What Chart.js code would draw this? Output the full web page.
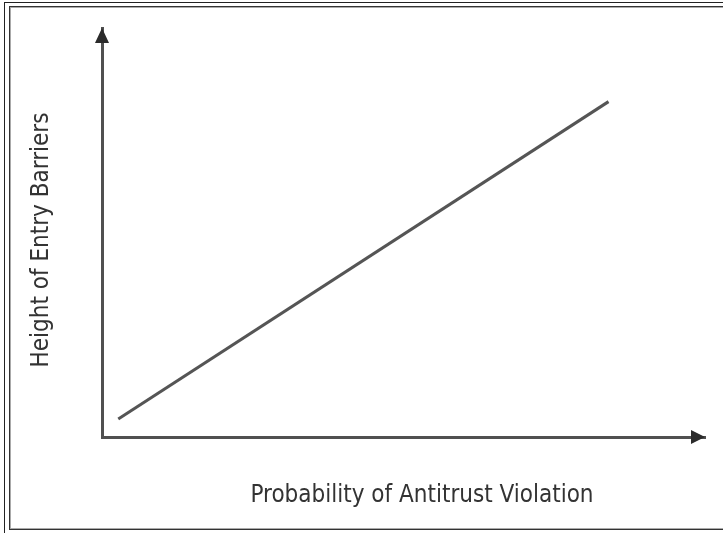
<!DOCTYPE html>
<html>
<head>
<meta charset="utf-8">
<script src="https://cdn.jsdelivr.net/npm/chart.js@4"></script>
<style>
  html, body { margin: 0; padding: 0; background: #fff; }
  #wrap { width: 723px; height: 533px; position: relative; }
</style>
</head>
<body>
<div id="wrap"><canvas id="chartLine"></canvas></div>
<script>
// the single straight relationship
const xValues = [2.7, 84];
const yValues = [4.4, 82];
const xTitle = "Probability of Antitrust Violation";
const yTitle = "Height of Entry Barriers";

const AXIS_COLOR = "#505050";
const TEXT_COLOR = "#333333";
const FONT = "24px 'DejaVu Sans Condensed', 'Liberation Sans Narrow', Roboto, sans-serif";

// frame around the figure, arrow heads and the axis labels
const framePlugin = {
    id: "frame",
    beforeDraw(chart) {
        const c = chart.ctx;
        c.save();
        c.fillStyle = "#fff";
        c.fillRect(0, 0, chart.width, chart.height);
        c.lineWidth = 1;
        c.strokeStyle = "#222";
        c.strokeRect(4.5, 2.5, chart.width + 10, chart.height - 2);
        c.strokeStyle = "#333";
        c.strokeRect(9.5, 6.5, chart.width + 10, chart.height - 10);
        c.strokeStyle = "#aaa";
        c.strokeRect(10.5, 7.5, chart.width + 10, chart.height - 12);
        c.restore();
    },
    afterDraw(chart) {
        const c = chart.ctx;
        const a = chart.chartArea;
        c.save();
        c.fillStyle = "#2b2b2b";
        // up arrow
        c.beginPath();
        c.moveTo(a.left, a.top);
        c.lineTo(a.left - 7, a.top + 15);
        c.lineTo(a.left + 7, a.top + 15);
        c.closePath();
        c.fill();
        // right arrow
        c.beginPath();
        c.moveTo(a.right, a.bottom);
        c.lineTo(a.right - 14, a.bottom - 7);
        c.lineTo(a.right - 14, a.bottom + 7);
        c.closePath();
        c.fill();
        // labels (the original sits a bit off the axis centres)
        c.fillStyle = TEXT_COLOR;
        c.font = FONT;
        c.textAlign = "center";
        c.textBaseline = "middle";
        c.fillText(xTitle, 422, 496);
        c.translate(42, 240);
        c.rotate(-Math.PI / 2);
        c.fillText(yTitle, 0, 0);
        c.restore();
    }
};

var ctx = document.getElementById("chartLine").getContext("2d");
var chartLine = new Chart(ctx, {
    type: "line",
    data: {
        datasets: [{
            data: xValues.map((x, i) => ({x: x, y: yValues[i]})),
            borderColor: "#555",
            borderWidth: 3,
            pointRadius: 0,
            fill: false
        }]
    },
    options: {
        responsive: true,
        maintainAspectRatio: false,
        animation: false,
        layout: {
            padding: {left: 102, top: 28, right: 18, bottom: 96}
        },
        plugins: {
            legend: {display: false},
            tooltip: {enabled: false}
        },
        scales: {
            x: {
                type: "linear",
                min: 0,
                max: 100,
                grid: {display: false, drawTicks: false},
                ticks: {display: false},
                border: {display: true, color: AXIS_COLOR, width: 3}
            },
            y: {
                type: "linear",
                min: 0,
                max: 100,
                grid: {display: false, drawTicks: false},
                ticks: {display: false},
                border: {display: true, color: AXIS_COLOR, width: 3}
            }
        }
    },
    plugins: [framePlugin]
});
</script>
</body>
</html>
